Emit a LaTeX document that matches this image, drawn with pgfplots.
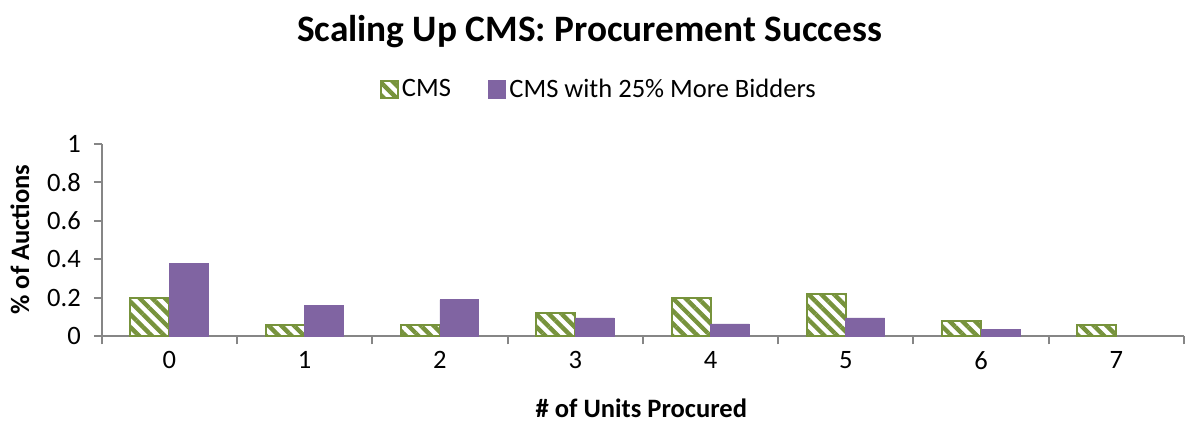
\documentclass[border=0pt]{standalone}
\usepackage{pgfplots}
\pgfplotsset{compat=1.18}
\usetikzlibrary{patterns.meta}
\usepackage{fontspec}
\setmainfont{Carlito}
\definecolor{cmsgreen}{HTML}{77933C}
\definecolor{cmspurple}{HTML}{8064A2}
\definecolor{axisgray}{HTML}{868686}

\begin{document}
\begin{tikzpicture}
\begin{axis}[
  scale only axis,
  width=542.5pt, height=96.65pt,
  ybar=0pt,
  bar width=19.5pt,
  xmin=-0.5, xmax=7.5,
  ymin=0, ymax=1,
  axis x line*=bottom,
  axis y line*=left,
  axis line style={draw=axisgray, line width=1pt},
  xtick={0,...,7},
  major x tick style={draw=none},
  minor xtick={-0.5,0.5,...,7.5},
  minor x tick style={draw=axisgray, line width=1pt},
  ytick={0,0.2,...,1},
  major y tick style={draw=axisgray, line width=1pt},
  tick align=outside,
  major tick length=4pt,
  minor tick length=4pt,
  /pgf/number format/assume math mode=true,
  ticklabel style={font=\fontsize{13.3}{16}\selectfont},
  yticklabel style={xshift=-3pt},
  title={Scaling Up CMS: Procurement Success},
  title style={font=\fontsize{18.7}{22}\selectfont\bfseries, at={(axis description cs:0.4507,1.52)}, anchor=center},
  xlabel={\# of Units Procured},
  xlabel style={font=\fontsize{13.3}{16}\selectfont\bfseries, at={(axis description cs:0.4986,-0.375)}, anchor=center},
  ylabel={\% of Auctions},
  ylabel style={font=\fontsize{13.3}{16}\selectfont\bfseries, at={(axis description cs:-0.0756,0.503)}, anchor=center, rotate=0},
  legend style={at={(axis description cs:0.46,1.28)}, anchor=center, draw=none, fill=none,
    font=\fontsize{13.3}{16}\selectfont, legend columns=2,
    nodes={inner xsep=1.5pt},
    /tikz/every even column/.append style={column sep=17pt}},
  legend image code/.code={\draw[#1, line width=0.8pt] (0pt,-4.25pt) rectangle (8.5pt,4.25pt);},
  clip=false,
]
\addplot[draw=cmsgreen, line width=1pt, fill=white,
  postaction={pattern={Lines[angle=-45, distance=4.5pt, line width=2.2pt]}, pattern color=cmsgreen}]
  coordinates {(0,0.20) (1,0.06) (2,0.06) (3,0.12) (4,0.20) (5,0.22) (6,0.08) (7,0.06)};
\addplot[draw=cmspurple, fill=cmspurple]
  coordinates {(0,0.377) (1,0.160) (2,0.190) (3,0.096) (4,0.065) (5,0.096) (6,0.035)};
\legend{CMS, CMS with 25\% More Bidders}
\end{axis}
\path[use as bounding box] ([xshift=-51pt,yshift=-44.5pt]current axis.south west) rectangle ([xshift=541.5pt,yshift=72pt]current axis.north west);
\end{tikzpicture}
\end{document}
